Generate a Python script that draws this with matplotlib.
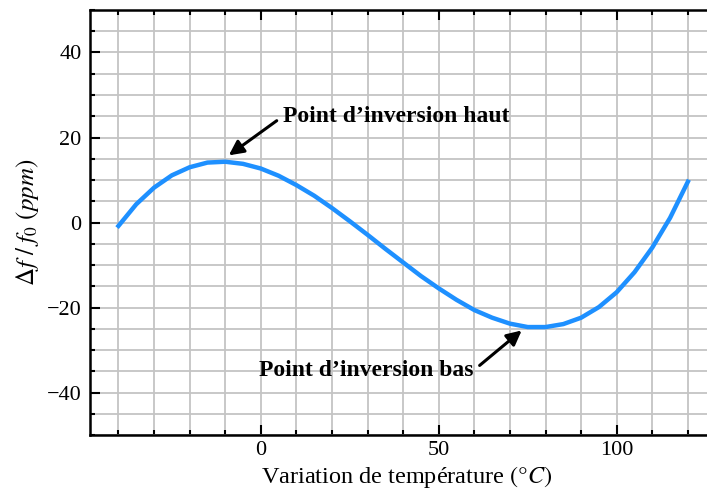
import matplotlib
matplotlib.use("Agg")
import matplotlib.pyplot as plt
from matplotlib.ticker import MultipleLocator

# temperature (degC) and frequency deviation (ppm)
temperature = [-40, -35, -30, -25, -20, -15, -10, -5, 0, 5, 10, 15, 20, 25, 30,
               35, 40, 45, 50, 55, 60, 65, 70, 75, 80, 85, 90, 95, 100, 105,
               110, 115, 120]
deviation = [-0.8, 4.3, 8.2, 11.1, 13.0, 14.1, 14.3, 13.8, 12.7, 11.0, 8.8,
             6.3, 3.4, 0.3, -2.9, -6.2, -9.4, -12.6, -15.5, -18.2, -20.6,
             -22.4, -23.8, -24.6, -24.6, -23.9, -22.4, -19.9, -16.4, -11.7,
             -5.9, 1.1, 9.6]

label_top = "Point d\u2019inversion haut"
label_bottom = "Point d\u2019inversion bas"

plt.rcParams["font.family"] = ["Liberation Serif", "DejaVu Serif"]
plt.rcParams["mathtext.fontset"] = "stix"

fig = plt.figure(figsize=(7.07, 4.95), dpi=100)
ax = fig.add_axes([0.1273, 0.1212, 0.896, 0.8586])

ax.plot(temperature, deviation, color="#1e90ff", lw=3.2, zorder=3)

ax.set_xlim(-48, 130)
ax.set_ylim(-50, 50)
ax.xaxis.set_major_locator(MultipleLocator(50))
ax.xaxis.set_minor_locator(MultipleLocator(10))
ax.yaxis.set_major_locator(MultipleLocator(20))
ax.yaxis.set_minor_locator(MultipleLocator(5))

ax.grid(which="both", color="#c4c4c4", lw=1.3, zorder=0)
ax.tick_params(which="both", direction="in", top=True, right=True,
               labelsize=16, width=1.5)
ax.tick_params(which="major", length=7, pad=6)
ax.tick_params(axis="x", which="major", pad=4)
ax.tick_params(which="minor", length=3.5)
for s in ax.spines.values():
    s.set_linewidth(1.8)

ax.set_xlabel(r"Variation de température $(\degree C)$", fontsize=17.5, labelpad=3)
ax.set_ylabel(r"$\Delta f\ /\ f_0\ (ppm)$", fontsize=18, labelpad=4)

ax.annotate(label_top, xy=(-9, 15.8), xytext=(6.2, 25), fontsize=17,
            fontweight="bold", ha="left", va="center",
            arrowprops=dict(arrowstyle="-|>", color="black", lw=2.2,
                            mutation_scale=22, shrinkA=3, shrinkB=0,
                            relpos=(0, 0.5)))
ax.annotate(label_bottom, xy=(73.3, -25.4), xytext=(59.8, -34.8), fontsize=17,
            fontweight="bold", ha="right", va="center",
            arrowprops=dict(arrowstyle="-|>", color="black", lw=2.2,
                            mutation_scale=22, shrinkA=3, shrinkB=0,
                            relpos=(1, 0.5)))

fig.savefig("out.png", dpi=100)
